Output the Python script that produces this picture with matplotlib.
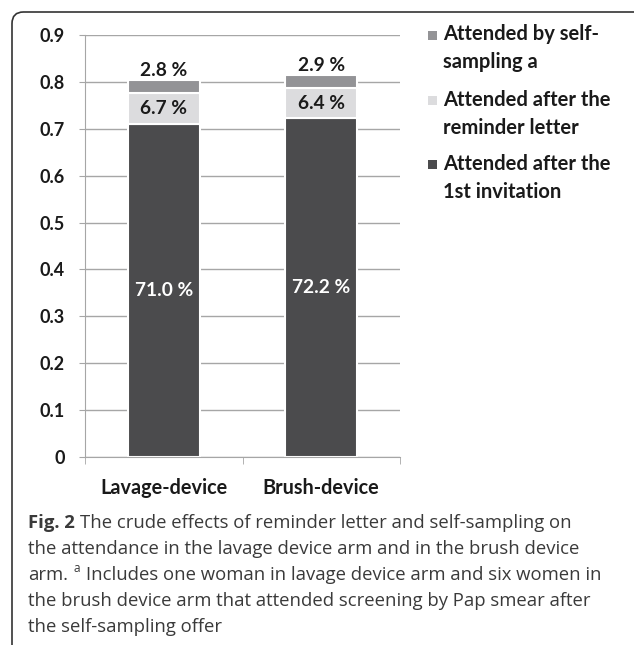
import matplotlib
matplotlib.use("Agg")
import matplotlib.pyplot as plt
from matplotlib.patches import FancyBboxPatch, Rectangle

# ---------------- data ----------------
categories = ["Lavage-device", "Brush-device"]
first_invitation = [0.710, 0.722]
reminder_letter = [0.067, 0.064]
self_sampling = [0.028, 0.029]
first_labels = ["71.0 %", "72.2 %"]
reminder_labels = ["6.7 %", "6.4 %"]
self_labels = ["2.8 %", "2.9 %"]
series_names = ["Attended by self-\nsampling a",
                "Attended after the\nreminder letter",
                "Attended after the\n1st invitation"]
yticks = [0, 0.1, 0.2, 0.3, 0.4, 0.5, 0.6, 0.7, 0.8, 0.9]
ytick_labels = ["0", "0.1", "0.2", "0.3", "0.4", "0.5", "0.6", "0.7", "0.8", "0.9"]

c_dark = "#4b4b4d"
c_light = "#dcdcde"
c_mid = "#939396"
colors = [c_mid, c_light, c_dark]

W, H = 634, 645
fig = plt.figure(figsize=(W / 100, H / 100), dpi=100)
fig.patch.set_facecolor("white")

def fx(px):
    return px / W

def fy(py):
    return 1 - py / H

ax = fig.add_axes([fx(85), fy(457), fx(400) - fx(85), fy(35) - fy(457)])
ax.set_ylim(0, 0.9)
ax.set_xlim(0, 2)

chart_font = "Lato"
txt_col = "#1a1a1a"
pos = [0.5, 1.5]
bw = 0.457
ax.set_axisbelow(True)
ax.yaxis.grid(True, color="#a6a6a6", lw=1.0)
ax.bar(pos, first_invitation, bw, color=c_dark, edgecolor="white", lw=1.5)
ax.bar(pos, reminder_letter, bw, bottom=first_invitation, color=c_light,
       edgecolor="white", lw=1.5)
bottom3 = [a + b for a, b in zip(first_invitation, reminder_letter)]
ax.bar(pos, self_sampling, bw, bottom=bottom3, color=c_mid,
       edgecolor="white", lw=1.5)

vsize = 13.8
for i in range(2):
    ax.text(pos[i], first_invitation[i] / 2, first_labels[i], ha="center", va="center",
            color="white", fontsize=vsize, fontweight="bold", family=chart_font)
    ax.text(pos[i], first_invitation[i] + reminder_letter[i] / 2, reminder_labels[i],
            ha="center", va="center", color=txt_col, fontsize=vsize,
            fontweight="bold", family=chart_font)
    top = bottom3[i] + self_sampling[i]
    ax.annotate(self_labels[i], (pos[i], top), xytext=(0, 0.5), textcoords="offset points",
                ha="center", va="bottom", color=txt_col, fontsize=vsize,
                fontweight="bold", family=chart_font)

for s in ["top", "right"]:
    ax.spines[s].set_visible(False)
ax.spines["left"].set_color("#a6a6a6")
ax.spines["bottom"].set_color("#a6a6a6")

ax.set_yticks(yticks)
ax.set_yticklabels(ytick_labels)
ax.tick_params(axis="y", length=4.5, color="#a6a6a6", pad=10, labelsize=13)
ax.set_xticks(pos)
ax.set_xticklabels(categories)
ax.set_xticks([0, 1, 2], minor=True)
ax.tick_params(axis="x", which="major", length=0, pad=15, labelsize=14.3)
ax.tick_params(axis="x", which="minor", length=5, color="#a6a6a6")
for lab in ax.get_yticklabels() + ax.get_xticklabels():
    lab.set_fontfamily(chart_font)
    lab.set_fontweight("bold")
    lab.set_color(txt_col)

# ---------------- legend (manual) ----------------
leg_y = [35, 100, 165]
for name, col, y in zip(series_names, colors, leg_y):
    fig.patches.append(Rectangle((fx(428), fy(y + 4.5)), fx(9), 9 / H,
                                 transform=fig.transFigure, facecolor=col,
                                 edgecolor="none"))
    fig.text(fx(443), fy(y - 10.5), name, ha="left", va="top", fontsize=14.5,
             fontweight="bold", family=chart_font, color=txt_col,
             linespacing=1.5)

# ---------------- frame ----------------
fig.patches.append(FancyBboxPatch((fx(12), -0.05), 1.1, fy(12) + 0.05,
                                  boxstyle="round,pad=0,rounding_size=0.018",
                                  transform=fig.transFigure, facecolor="none",
                                  edgecolor="#333333", lw=1.2))

# ---------------- caption ----------------
cap_font = "Open Sans"
cap_size = 13.3
cap_col = "#3a3a3a"
fig.canvas.draw()
renderer = fig.canvas.get_renderer()

def pieces(x, y, items):
    for txt, kw in items:
        dy = kw.pop("dy", 0)
        gap = kw.pop("gap", 0)
        x += gap
        t = fig.text(fx(x), fy(y - dy), txt, ha="left", va="baseline",
                     family=cap_font, color=cap_col, **kw)
        bb = t.get_window_extent(renderer)
        x = bb.x1

base = [528, 554, 580, 606, 632]
x0 = 28
pieces(x0, base[0], [("Fig. 2", dict(fontsize=cap_size, fontweight="bold")),
                     ("The crude effects of reminder letter and self-sampling on",
                      dict(fontsize=cap_size, gap=5))])
pieces(x0, base[1], [("the attendance in the lavage device arm and in the brush device",
                      dict(fontsize=cap_size))])
pieces(x0, base[2], [("arm.", dict(fontsize=cap_size)),
                     ("a", dict(fontsize=8.5, dy=8, gap=6)),
                     ("Includes one woman in lavage device arm and six women in",
                      dict(fontsize=cap_size, gap=5))])
pieces(x0, base[3], [("the brush device arm that attended screening by Pap smear after",
                      dict(fontsize=cap_size))])
pieces(x0, base[4], [("the self-sampling offer", dict(fontsize=cap_size))])

fig.savefig("out.png", dpi=100)
